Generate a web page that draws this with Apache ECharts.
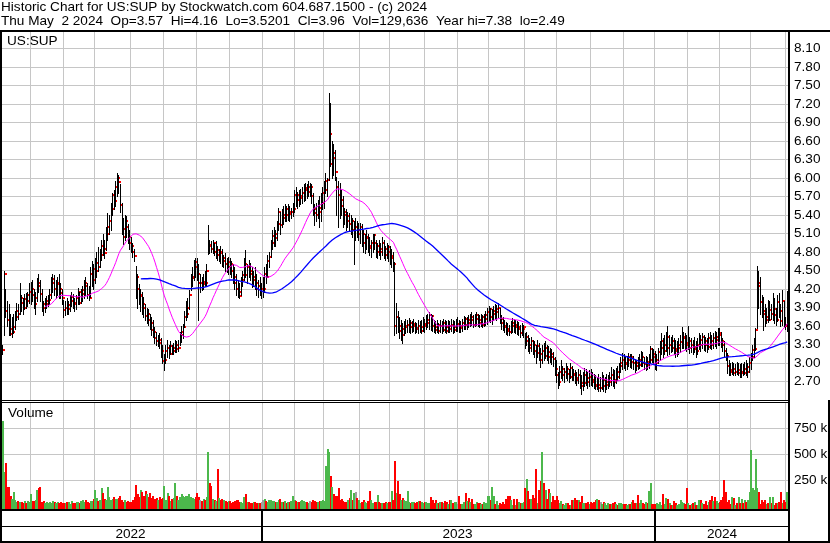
<!DOCTYPE html>
<html>
<head>
<meta charset="utf-8">
<script src="https://cdn.jsdelivr.net/npm/echarts/dist/echarts.min.js"></script>
<style>
html,body{margin:0;padding:0;background:#fff;}
#chart{width:830px;height:543px;}
</style>
</head>
<body>
<div id="chart"></div>
<script>
// ---------------- DATA ----------------
const title1 = 'Historic Chart for US:SUP by Stockwatch.com 604.687.1500 - (c) 2024';
const title2 = 'Thu May  2 2024  Op=3.57  Hi=4.16  Lo=3.5201  Cl=3.96  Vol=129,636  Year hi=7.38  lo=2.49';
const symbolLabel = 'US:SUP';
const yearLabels = ['2022', '2023', '2024'];
const volumeTickLabels = {250000: '250 k', 500000: '500 k', 750000: '750 k'};

// trading calendar: 2022-05-05 .. 2024-05-02 (weekdays, US market holidays removed)
const firstDay = '2022-05-05';
const lastDay = '2024-05-02';
const holidays = ['2022-05-30','2022-06-20','2022-07-04','2022-09-05','2022-11-24','2022-12-26',
  '2023-01-02','2023-01-16','2023-02-20','2023-04-07','2023-05-29','2023-06-19','2023-07-04',
  '2023-09-04','2023-11-23','2023-12-25','2024-01-01','2024-01-15','2024-02-19','2024-03-29'];

// daily highs, one row per month
const highs = [
 3.30,4.50,4.20,4.00,3.95,3.80,3.75,3.80,3.85,3.97,3.95,4.30,4.10,4.05,4.12,4.13,4.15,4.30,
 4.32,4.35,4.20,4.15,4.38,4.45,4.35,4.20,4.00,4.05,4.08,4.10,4.20,4.40,4.45,4.42,4.35,4.40,4.45,4.30,4.20,
 4.02,4.00,4.05,4.00,4.10,4.15,4.12,4.05,4.10,4.22,4.15,4.20,4.25,4.35,4.40,4.30,4.25,4.55,4.65,4.60,
 4.70,4.80,4.88,4.85,5.00,5.10,5.00,5.20,5.43,5.40,5.60,5.75,5.80,5.95,6.08,6.05,5.90,5.60,5.35,5.40,5.38,5.25,5.15,
 5.04,4.95,4.85,4.58,4.45,4.28,4.20,4.15,4.07,3.95,3.90,3.88,3.80,3.75,3.70,3.58,3.50,3.45,3.48,3.40,3.30,
 3.15,3.30,3.37,3.30,3.35,3.30,3.32,3.38,3.35,3.38,3.50,3.60,3.64,3.85,4.00,4.05,4.18,4.45,4.55,4.67,4.70,
 4.70,4.60,4.45,4.40,4.45,4.50,4.60,5.23,5.00,4.98,5.00,4.95,4.98,4.90,4.85,4.90,4.85,4.75,4.78,4.70,4.72,
 4.70,4.65,4.60,4.55,4.45,4.35,4.30,4.40,4.50,4.70,4.83,4.60,4.67,4.62,4.55,4.50,4.55,4.45,4.35,4.40,4.30,
 4.40,4.55,4.60,4.75,4.80,5.00,5.15,5.20,5.15,5.30,5.52,5.45,5.50,5.55,5.58,5.55,5.58,5.55,5.52,5.60,
 5.80,5.85,5.78,5.80,5.82,5.85,5.90,5.92,5.90,5.95,5.92,5.90,5.75,5.58,5.60,5.65,5.70,5.75,5.85,
 5.95,6.08,6.00,7.38,7.22,6.60,6.55,6.45,6.02,5.95,5.92,5.80,5.70,5.52,5.50,5.45,5.44,5.40,5.35,5.30,5.35,5.30,5.27,
 5.27,5.25,5.15,5.10,5.15,5.10,5.05,5.00,5.10,5.10,5.00,4.95,5.00,4.95,5.04,5.00,4.90,4.95,4.92,
 4.90,4.85,4.80,4.63,3.97,3.85,3.74,3.70,3.65,3.68,3.72,3.70,3.73,3.70,3.68,3.72,3.66,3.65,3.70,3.68,3.70,3.75,
 3.72,3.78,3.80,3.82,3.80,3.78,3.70,3.68,3.70,3.65,3.70,3.68,3.72,3.70,3.68,3.70,3.68,3.72,3.70,3.68,3.72,
 3.74,3.70,3.68,3.72,3.76,3.75,3.74,3.78,3.80,3.82,3.78,3.80,3.82,3.80,3.78,3.80,3.78,3.80,3.85,3.90,
 3.92,3.90,3.88,3.92,3.95,3.94,3.97,3.90,3.78,3.74,3.70,3.66,3.65,3.62,3.68,3.73,3.72,3.70,3.68,3.66,3.62,3.65,3.62,
 3.48,3.50,3.45,3.40,3.42,3.38,3.35,3.30,3.37,3.32,3.25,3.30,3.32,3.35,3.30,3.28,3.25,3.22,3.18,3.10,
 3.05,2.85,2.95,3.05,2.95,2.92,3.00,2.95,2.90,3.00,2.95,2.90,2.88,2.85,2.90,2.88,2.80,2.85,2.92,2.90,2.85,2.88,
 2.90,2.85,2.82,2.80,2.78,2.82,2.78,2.85,2.80,2.78,2.82,2.80,2.85,2.93,2.90,2.88,2.92,2.95,3.00,3.10,3.16,
 3.15,3.10,3.12,3.16,3.15,3.14,3.12,3.06,3.05,3.10,3.15,3.20,3.18,3.10,3.12,3.10,3.15,3.27,3.25,3.22,
 3.20,3.15,3.25,3.35,3.48,3.40,3.45,3.50,3.60,3.45,3.42,3.45,3.40,3.37,3.35,3.40,3.45,3.58,3.50,3.48,3.45,
 3.60,3.42,3.40,3.38,3.42,3.35,3.40,3.48,3.45,3.48,3.45,3.42,3.40,3.48,3.50,3.45,3.48,3.52,3.50,3.56,
 3.57,3.50,3.40,3.35,3.25,3.16,3.05,3.00,3.02,3.00,2.98,3.02,3.00,2.98,3.00,2.98,3.02,3.05,3.00,3.10,
 3.16,3.30,3.40,3.57,4.58,4.50,4.40,4.10,4.07,3.95,3.90,4.02,4.00,3.95,4.13,4.05,3.90,4.10,4.13,3.95,4.18,4.00,
 3.75,4.16
];

// daily lows
const lows = [
 3.15,3.45,3.75,3.60,3.45,3.45,3.42,3.48,3.55,3.70,3.72,3.80,3.85,3.80,3.88,3.90,3.92,3.97,
 3.95,4.00,3.90,3.80,4.00,4.15,4.00,3.85,3.78,3.82,3.90,3.92,3.95,4.05,4.15,4.10,4.05,4.10,4.05,4.05,3.95,
 3.75,3.78,3.80,3.80,3.85,3.92,3.90,3.85,3.88,3.95,3.95,3.97,4.00,4.05,4.10,4.05,4.02,4.07,4.25,4.20,
 4.30,4.40,4.50,4.55,4.67,4.75,4.70,4.83,5.00,5.10,5.15,5.40,5.50,5.55,5.70,5.75,5.45,5.10,4.93,5.00,5.05,4.95,4.85,
 4.80,4.72,4.65,4.05,3.90,3.95,3.85,3.80,3.75,3.70,3.65,3.62,3.55,3.45,3.42,3.32,3.29,3.28,3.25,3.10,3.00,
 2.88,3.00,3.10,3.08,3.15,3.15,3.15,3.18,3.18,3.20,3.30,3.34,3.40,3.58,3.70,3.75,3.88,4.18,4.25,4.35,4.40,
 4.35,3.70,4.15,4.18,4.20,4.25,4.25,4.77,4.78,4.80,4.79,4.75,4.70,4.67,4.65,4.62,4.58,4.55,4.50,4.47,4.45,
 4.45,4.40,4.30,4.20,4.10,4.07,4.05,4.10,4.25,4.35,4.40,4.30,4.40,4.35,4.23,4.25,4.20,4.10,4.07,4.10,4.05,
 4.07,4.15,4.30,4.40,4.55,4.72,4.85,4.90,4.90,5.00,5.15,5.10,5.20,5.25,5.30,5.30,5.32,5.30,5.35,5.38,
 5.45,5.55,5.52,5.55,5.58,5.60,5.62,5.65,5.68,5.70,5.70,5.60,5.40,5.23,5.30,5.35,5.20,5.30,5.50,
 5.52,5.75,5.70,5.96,6.20,6.00,6.05,5.96,5.40,5.20,5.35,5.40,5.20,5.25,5.15,5.20,5.15,5.10,5.05,4.60,5.00,5.04,5.00,
 4.95,4.90,4.80,4.78,4.85,4.80,4.75,4.72,4.80,4.85,4.72,4.70,4.75,4.68,4.75,4.70,4.67,4.70,4.65,
 4.60,4.55,4.50,3.45,3.48,3.50,3.40,3.37,3.32,3.45,3.48,3.50,3.50,3.48,3.50,3.52,3.48,3.50,3.48,3.50,3.48,3.52,
 3.50,3.55,3.58,3.55,3.53,3.52,3.50,3.48,3.50,3.48,3.50,3.49,3.52,3.50,3.48,3.50,3.50,3.52,3.48,3.50,3.52,
 3.52,3.50,3.50,3.52,3.55,3.55,3.55,3.58,3.60,3.62,3.58,3.60,3.62,3.60,3.58,3.60,3.58,3.60,3.62,3.64,
 3.68,3.66,3.64,3.70,3.72,3.70,3.75,3.65,3.55,3.53,3.50,3.47,3.45,3.45,3.48,3.50,3.50,3.48,3.47,3.45,3.42,3.45,3.42,
 3.25,3.30,3.20,3.16,3.20,3.15,3.10,3.00,3.10,3.05,2.93,3.00,3.05,3.08,3.05,3.00,3.02,2.98,2.95,2.80,
 2.70,2.59,2.65,2.75,2.72,2.70,2.75,2.72,2.70,2.75,2.72,2.72,2.68,2.65,2.68,2.60,2.49,2.56,2.62,2.65,2.60,2.62,
 2.65,2.62,2.60,2.58,2.58,2.55,2.55,2.58,2.55,2.53,2.58,2.60,2.62,2.65,2.62,2.60,2.68,2.72,2.75,2.85,2.90,
 2.92,2.88,2.90,2.95,2.93,2.92,2.90,2.86,2.88,2.90,2.92,2.95,2.95,2.90,2.88,2.90,2.92,3.00,3.02,3.00,
 2.90,2.88,3.00,3.05,3.15,3.10,3.15,3.20,3.13,3.15,3.18,3.20,3.15,3.10,3.12,3.15,3.18,3.25,3.25,3.22,3.20,
 3.22,3.16,3.18,3.15,3.18,3.10,3.15,3.22,3.20,3.25,3.21,3.20,3.18,3.22,3.25,3.22,3.25,3.28,3.25,3.30,
 3.30,3.26,3.20,3.10,3.05,2.84,2.80,2.80,2.82,2.80,2.80,2.82,2.80,2.78,2.77,2.80,2.82,2.80,2.78,2.85,
 2.90,3.05,3.10,3.21,3.57,3.90,3.80,3.74,3.53,3.60,3.65,3.67,3.70,3.72,3.70,3.65,3.62,3.68,3.75,3.60,3.62,3.58,
 3.55,3.5201
];

// daily closes
const closes = [
 3.21,4.45,3.85,3.70,3.55,3.47,3.50,3.58,3.75,3.85,3.80,4.05,3.98,3.90,4.03,4.00,4.10,4.15,
 4.20,4.10,3.95,4.05,4.30,4.25,4.12,3.95,3.89,3.95,4.00,4.02,4.10,4.30,4.37,4.20,4.28,4.30,4.20,4.13,4.05,
 3.86,3.90,3.88,3.94,4.00,4.07,3.98,3.95,4.05,4.15,3.97,4.12,4.18,4.30,4.25,4.10,4.06,4.45,4.53,4.35,
 4.50,4.62,4.55,4.75,4.90,4.85,4.78,5.10,5.20,5.30,5.50,5.72,5.62,5.85,6.00,5.93,5.56,5.18,5.05,5.30,5.20,5.05,4.95,
 4.90,4.80,4.73,4.40,4.20,4.08,4.10,3.95,3.90,3.76,3.80,3.70,3.65,3.53,3.50,3.40,3.35,3.38,3.32,3.20,3.03,
 3.05,3.20,3.25,3.15,3.28,3.20,3.25,3.30,3.22,3.25,3.45,3.50,3.58,3.75,3.80,3.90,4.10,4.38,4.40,4.63,4.55,
 4.45,4.30,4.30,4.28,4.32,4.30,4.50,4.92,4.90,4.85,4.95,4.80,4.83,4.75,4.80,4.78,4.65,4.70,4.60,4.55,4.63,
 4.60,4.50,4.40,4.30,4.20,4.15,4.08,4.35,4.42,4.60,4.42,4.55,4.50,4.45,4.35,4.40,4.30,4.20,4.25,4.20,4.20,
 4.20,4.45,4.40,4.65,4.72,4.95,5.06,5.10,5.02,5.25,5.45,5.23,5.40,5.35,5.50,5.40,5.45,5.41,5.45,5.50,
 5.72,5.65,5.72,5.67,5.70,5.75,5.80,5.83,5.78,5.85,5.85,5.70,5.50,5.44,5.40,5.52,5.45,5.60,5.75,
 5.80,5.95,5.96,6.72,6.22,6.40,6.33,6.10,5.85,5.72,5.64,5.55,5.45,5.40,5.30,5.38,5.25,5.30,5.15,5.20,5.20,5.10,5.15,
 5.20,5.10,4.95,5.02,5.05,4.90,4.86,4.95,5.08,4.95,4.80,4.90,4.85,4.80,4.95,4.85,4.75,4.88,4.80,
 4.70,4.73,4.60,3.60,3.74,3.60,3.52,3.55,3.45,3.58,3.60,3.61,3.65,3.58,3.60,3.63,3.57,3.55,3.60,3.52,3.58,3.63,
 3.60,3.65,3.70,3.78,3.76,3.60,3.58,3.53,3.62,3.52,3.60,3.53,3.65,3.58,3.52,3.60,3.55,3.62,3.53,3.58,3.64,
 3.64,3.60,3.56,3.65,3.72,3.62,3.70,3.65,3.75,3.70,3.62,3.72,3.78,3.70,3.65,3.74,3.62,3.72,3.78,3.82,
 3.88,3.75,3.80,3.85,3.82,3.88,3.90,3.72,3.65,3.60,3.58,3.55,3.52,3.50,3.60,3.65,3.58,3.62,3.55,3.58,3.49,3.55,3.58,
 3.35,3.42,3.30,3.25,3.35,3.29,3.20,3.16,3.28,3.15,3.05,3.20,3.12,3.25,3.18,3.10,3.15,3.10,3.06,2.90,
 2.80,2.70,2.85,2.90,2.80,2.85,2.90,2.82,2.78,2.92,2.80,2.82,2.75,2.72,2.80,2.68,2.62,2.67,2.80,2.75,2.70,2.78,
 2.72,2.70,2.65,2.62,2.65,2.60,2.60,2.72,2.62,2.65,2.70,2.75,2.70,2.80,2.72,2.70,2.85,2.78,2.95,3.00,3.05,
 3.00,2.98,3.05,3.10,3.02,3.10,3.00,2.95,3.00,2.96,3.05,3.10,3.00,2.98,3.02,2.96,3.05,3.22,3.15,3.10,
 3.00,3.05,3.18,3.25,3.35,3.20,3.30,3.42,3.25,3.30,3.25,3.35,3.22,3.20,3.25,3.30,3.34,3.40,3.42,3.32,3.30,
 3.35,3.25,3.30,3.22,3.26,3.20,3.30,3.38,3.30,3.42,3.35,3.30,3.26,3.40,3.35,3.30,3.40,3.37,3.42,3.48,
 3.45,3.35,3.30,3.20,3.12,2.95,2.88,2.85,2.90,2.84,2.86,2.84,2.88,2.84,2.85,2.84,2.90,2.86,2.93,3.00,
 3.10,3.21,3.22,3.53,4.30,4.25,3.99,3.85,3.80,3.70,3.75,3.70,3.86,3.80,3.88,3.78,3.70,3.99,3.85,3.68,4.00,3.62,
 3.60,3.96
];

// daily volume, thousands of shares
const volumesK = [
 822,330,415,185,180,100,70,135,55,40,45,35,40,30,45,25,50,35,
 115,50,45,60,155,170,180,40,45,30,35,25,40,30,45,35,25,40,30,35,25,
 30,25,40,35,20,45,30,25,40,35,30,45,55,35,60,40,30,45,50,65,
 155,80,50,60,175,120,70,60,180,85,60,70,90,70,65,80,95,60,40,55,35,45,40,
 40,60,90,200,110,90,150,130,100,140,110,90,120,80,95,70,80,60,90,70,75,
 195,60,120,100,50,70,80,220,100,60,90,110,100,85,95,100,110,90,80,70,85,
 120,90,60,50,70,60,90,520,220,190,70,60,50,355,80,60,70,60,50,40,50,
 45,30,40,50,55,60,40,35,30,90,110,40,35,30,25,40,35,30,25,30,35,
 60,65,50,40,55,60,45,50,40,35,60,65,40,35,45,30,40,35,45,100,
 60,45,40,35,50,55,45,35,40,30,45,40,55,50,35,40,45,50,55,
 45,390,550,520,290,185,115,95,100,175,60,70,45,40,35,60,80,155,60,120,135,80,55,
 30,35,60,40,30,50,145,60,30,35,40,105,40,25,30,25,35,30,40,
 40,140,60,435,125,240,118,60,75,60,50,145,40,30,35,40,30,35,50,45,35,30,
 40,35,25,25,90,60,30,60,30,25,35,40,30,45,35,20,60,60,30,40,35,
 20,95,15,20,40,120,50,75,40,70,20,15,40,30,25,15,20,35,30,100,
 100,60,185,100,15,50,10,30,15,40,20,65,100,100,60,10,65,10,70,40,30,25,35,
 175,260,145,65,70,105,80,360,30,150,245,520,225,150,65,165,120,40,95,60,
 95,60,25,50,20,10,25,25,8,10,55,60,75,60,60,40,95,25,25,30,35,20,
 40,25,40,60,65,60,35,15,40,25,10,30,20,15,25,35,20,10,25,30,20,
 15,20,10,20,15,40,58,26,30,106,26,58,26,20,35,30,147,218,20,15,
 20,26,16,42,10,115,16,74,64,26,10,10,48,26,10,20,58,42,30,20,176,
 26,10,16,26,42,10,10,58,58,26,16,48,10,42,58,96,48,90,48,32,
 42,60,90,250,138,42,58,16,90,74,10,26,83,26,64,26,58,42,58,138,
 540,170,150,450,170,131,20,58,42,58,16,26,83,26,90,10,32,26,40,138,26,60,
 40,129.636
];

const fastMaPeriod = 28;
const slowMaPeriod = 89;

// ---------------- derived structures ----------------
function tradingDays(from, to, skip) {
  const out = [];
  const skipSet = new Set(skip);
  const d = new Date(from + 'T00:00:00Z');
  const end = new Date(to + 'T00:00:00Z');
  while (d <= end) {
    const wd = d.getUTCDay();
    const s = d.toISOString().slice(0, 10);
    if (wd !== 0 && wd !== 6 && !skipSet.has(s)) out.push(s);
    d.setUTCDate(d.getUTCDate() + 1);
  }
  return out;
}
const dates = tradingDays(firstDay, lastDay, holidays);
const N = Math.min(dates.length, closes.length, highs.length, lows.length, volumesK.length);
const cats = dates.slice(0, N);

function movingAverage(values, n) {
  const out = [];
  let sum = 0;
  for (let i = 0; i < values.length; i++) {
    sum += values[i];
    if (i >= n) sum -= values[i - n];
    out.push(i >= n - 1 ? +(sum / n).toFixed(4) : null);
  }
  return out;
}
const cl = closes.slice(0, N);
const maFast = movingAverage(cl, fastMaPeriod);
const maSlow = movingAverage(cl, slowMaPeriod);

const ohlcData = [];
const volData = [];
for (let i = 0; i < N; i++) {
  ohlcData.push([i, highs[i], lows[i], closes[i]]);
  const dir = i === 0 ? 1 : (closes[i] > closes[i - 1] ? 1 : (closes[i] < closes[i - 1] ? -1 : 0));
  volData.push([i, volumesK[i] * 1000, dir]);
}

function monthStart(index) {
  return index > 0 && cats[index] && cats[index - 1] && cats[index].slice(0, 7) !== cats[index - 1].slice(0, 7);
}
function yearStartIndex(y) {
  return cats.findIndex(d => d.slice(0, 4) === y);
}

// ---------------- chart ----------------
const FONT = '"Liberation Sans", Arial, Helvetica, sans-serif';
const FS = 13.6;
const GRID = '#c6c6c6';
const chart = echarts.init(document.getElementById('chart'), null, {renderer: 'canvas'});

const plotLeft = 2, plotRight = 788;
const priceTop = 30, priceBottom = 400;
const volTop = 402.45, volBottom = 505.85;

function renderBar(params, api) {
  const i = api.value(0);
  const pH = api.coord([i, api.value(1)]);
  const pL = api.coord([i, api.value(2)]);
  const x = Math.round(pH[0] - 0.5);
  const yTop = Math.round(pH[1]);
  const yBot = Math.round(pL[1]);
  return {type: 'rect', shape: {x: x, y: yTop, width: 1, height: Math.max(1, yBot - yTop + 1)}, style: {fill: '#000'}};
}
function renderClose(params, api) {
  const i = api.value(0);
  const pC = api.coord([i, api.value(3)]);
  const x = Math.round(pC[0] - 0.5);
  return {type: 'rect', shape: {x: x + 1, y: Math.round(pC[1]) - 1, width: 2, height: 2}, style: {fill: '#ff0000'}};
}
function renderVol(params, api) {
  const i = api.value(0);
  const p = api.coord([i, api.value(1)]);
  const base = api.coord([i, 0])[1] + 3;
  const x = Math.round(p[0] - 1);
  const y = Math.round(p[1]);
  const dir = api.value(2);
  const fill = dir > 0 ? '#4cb84c' : (dir < 0 ? '#ff0000' : '#a0a0a0');
  return {type: 'rect', shape: {x: x, y: y, width: 2, height: Math.max(1, Math.round(base) - y)}, style: {fill: fill}};
}

function hline(x, y, w, h) { return {type: 'rect', z: 100, shape: {x: x, y: y, width: w, height: h}, style: {fill: '#000'}}; }
function label(text, x, y, align) {
  return {type: 'text', z: 101, x: x, y: y, style: {text: text, font: FS + 'px ' + FONT, fill: '#000', align: align || 'left', verticalAlign: 'middle'}};
}

const bandW = (plotRight - plotLeft) / N;
const y23 = yearStartIndex('2023'), y24 = yearStartIndex('2024');
const x23 = Math.round(plotLeft + y23 * bandW) - 1;
const x24 = Math.round(plotLeft + y24 * bandW) - 1;

const graphics = [
  label(title1, 1, 7),
  label(title2, 1, 21.7),
  label(symbolLabel, 7, 41),
  label('Volume', 8, 413.3),
  label(yearLabels[0], (0 + x23) / 2, 534.5, 'center'),
  label(yearLabels[1], (x23 + x24) / 2, 534.5, 'center'),
  label(yearLabels[2], (x24 + 790) / 2, 534.5, 'center'),
  hline(0, 30, 830, 2),
  hline(0, 30, 2, 513),
  hline(788, 30, 2, 513),
  hline(828, 400, 2, 143),
  hline(0, 400, 790, 1),
  hline(0, 402, 790, 1),
  hline(0, 509, 790, 2),
  hline(0, 526, 790, 1),
  hline(0, 541, 830, 2),
  hline(x23, 510, 2, 32),
  hline(x24, 510, 2, 32)
];

const xCommon = {
  type: 'category', data: cats, boundaryGap: true,
  axisLine: {show: false}, axisTick: {show: false}, axisLabel: {show: false},
  splitLine: {show: true, interval: monthStart, lineStyle: {color: GRID, width: 1}}
};

const option = {
  animation: false,
  backgroundColor: '#fff',
  textStyle: {fontFamily: FONT},
  grid: [
    {left: plotLeft, top: priceTop, width: plotRight - plotLeft, height: priceBottom - priceTop, containLabel: false, outerBoundsMode: 'none'},
    {left: plotLeft, top: volTop, width: plotRight - plotLeft, height: volBottom - volTop, containLabel: false, outerBoundsMode: 'none'}
  ],
  xAxis: [
    Object.assign({gridIndex: 0}, xCommon),
    Object.assign({gridIndex: 1}, xCommon)
  ],
  yAxis: [
    {
      type: 'value', gridIndex: 0, position: 'right', min: 2.4, max: 8.4, interval: 0.3,
      axisLine: {show: false}, axisTick: {show: false},
      axisLabel: {margin: 6, color: '#000', fontSize: FS, fontFamily: FONT,
        formatter: v => (v < 2.55 || v > 8.25) ? '' : v.toFixed(2)},
      splitLine: {show: true, lineStyle: {color: GRID, width: 1}}
    },
    {
      type: 'value', gridIndex: 1, position: 'right', min: 0, max: 1000000, interval: 250000,
      axisLine: {show: false}, axisTick: {show: false},
      axisLabel: {margin: 6, color: '#000', fontSize: FS, fontFamily: FONT,
        formatter: v => volumeTickLabels[Math.round(v)] || ''},
      splitLine: {show: true, lineStyle: {color: GRID, width: 1}}
    }
  ],
  series: [
    {type: 'custom', xAxisIndex: 0, yAxisIndex: 0, data: ohlcData, renderItem: renderClose, silent: true,
      encode: {x: 0, y: 3}},
    {type: 'custom', xAxisIndex: 0, yAxisIndex: 0, data: ohlcData, renderItem: renderBar, silent: true,
      encode: {x: 0, y: [1, 2]}},
    {type: 'line', xAxisIndex: 0, yAxisIndex: 0, data: maFast, showSymbol: false, silent: true,
      lineStyle: {color: '#ff00ff', width: 1}, itemStyle: {color: '#ff00ff'}},
    {type: 'line', xAxisIndex: 0, yAxisIndex: 0, data: maSlow, showSymbol: false, silent: true,
      lineStyle: {color: '#0000ff', width: 1.3}, itemStyle: {color: '#0000ff'}},
    {type: 'custom', xAxisIndex: 1, yAxisIndex: 1, data: volData, renderItem: renderVol, silent: true,
      encode: {x: 0, y: 1}}
  ],
  graphic: graphics
};
chart.setOption(option);
</script>
</body>
</html>
